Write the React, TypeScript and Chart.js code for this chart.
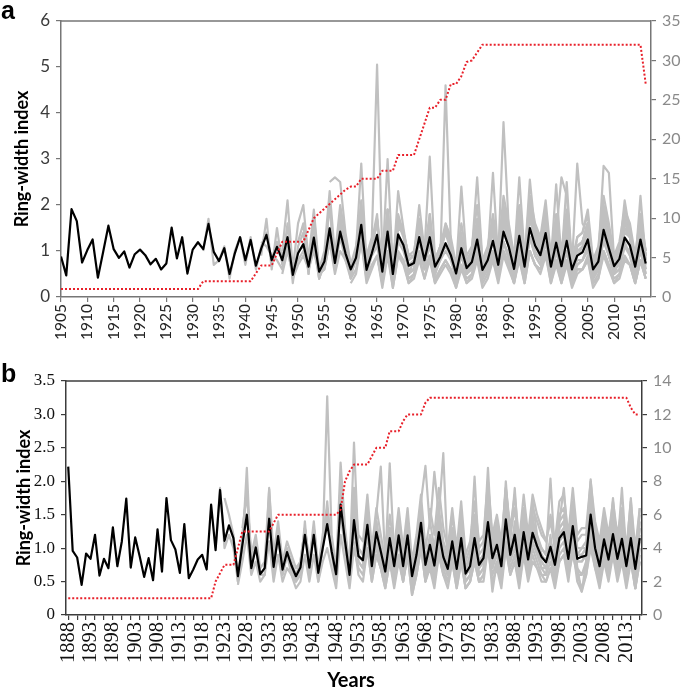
import React, { useEffect, useRef } from 'react';
import { Chart, registerables } from 'chart.js';
Chart.register(...registerables);

// ---------------- Panel a ----------------
const A_FIRST_YEAR = 1905;
const A_TICK_YEARS = [1905, 1910, 1915, 1920, 1925, 1930, 1935, 1940, 1945, 1950, 1955, 1960, 1965, 1970, 1975, 1980, 1985, 1990, 1995, 2000, 2005, 2010, 2015];
const A_MEAN = [
  0.88, 0.47, 1.91, 1.65, 0.75, 1.02, 1.25, 0.42, 0.98, 1.55,
  1.04, 0.85, 0.99, 0.64, 0.93, 1.03, 0.91, 0.71, 0.83, 0.60,
  0.73, 1.51, 0.84, 1.30, 0.51, 1.03, 1.19, 1.04, 1.59, 0.98,
  0.78, 1.06, 0.50, 0.95, 1.30, 0.80, 1.24, 0.68, 1.05, 1.35,
  0.80, 1.09, 0.80, 1.30, 0.48, 0.95, 1.15, 0.66, 1.29, 0.55,
  0.77, 1.49, 0.74, 1.42, 0.95, 0.60, 0.85, 1.57, 0.59, 0.95,
  1.35, 0.55, 1.42, 0.50, 1.36, 1.13, 0.68, 0.74, 1.30, 0.80,
  1.30, 0.66, 0.87, 1.17, 0.91, 0.51, 1.06, 0.63, 0.76, 1.25,
  0.59, 0.80, 1.22, 0.70, 1.42, 1.09, 0.61, 1.33, 0.66, 1.50,
  1.12, 0.91, 1.39, 0.66, 1.18, 0.67, 1.22, 0.60, 0.90, 0.97,
  1.25, 0.60, 0.77, 1.46, 1.06, 0.67, 0.83, 1.29, 1.12, 0.66,
  1.25, 0.73,
];
const A_DEPTH = [
  1, 1, 1, 1, 1, 1, 1, 1, 1, 1, 1, 1, 1, 1, 1, 1, 1, 1, 1, 1, 1, 1, 1, 1, 1, 1, 1,
  2, 2, 2, 2, 2, 2, 2, 2, 2, 2,
  3, 4, 4, 4, 5.5, 7, 7, 7, 7, 7,
  8.5, 10, 10.6, 11.2, 11.8, 12.4, 13, 13.6, 14, 14,
  15, 15, 15, 15, 16, 16, 16, 18, 18, 18, 18, 20, 22, 24, 24, 25, 25, 27, 27, 28, 29.8, 30, 31,
  32, 32, 32, 32, 32, 32, 32, 32, 32, 32, 32, 32, 32, 32, 32, 32, 32, 32, 32, 32, 32, 32, 32, 32, 32, 32, 32, 32, 32, 32, 32,
  27,
];
const A_G1 = [1.0,1.7,0.7,0.8,1.1,0.4,1.0,1.3,0.7,1.3, 0.6,1.1,1.4,0.8,1.2,0.9,1.3,0.5,1.0,1.1, 0.7,1.3,0.6,0.9,1.5,0.8,1.4,1.0,0.6,0.9, 1.5,0.6,1.0,1.2,0.6,1.4,0.5,1.3,1.1,0.7, 0.8,1.3,0.8,1.2,0.7,0.9,1.1,0.9,0.5,1.0, 0.6,0.8,1.2,0.6,0.8,1.2,0.7,1.4,1.1,0.6, 1.3,0.7,1.5,1.1,0.9,1.4,0.7,1.2,0.7,1.2, 0.6,0.9,1.0,1.2,0.6,0.8,1.4,1.0,0.7,0.8, 1.3,1.1,0.7,1.2,0.7];
const A_G2 = [0.9,1.7,0.6,1.5,0.7,1.6,0.3,1.1,1.4,0.5, 1.6,0.4,0.8,2.0,0.6,1.8,1.0,0.4,0.9,2.1, 0.4,1.1,1.7,0.4,1.9,0.3,1.8,1.4,0.5,0.6, 1.7,0.7,1.6,0.5,0.9,1.5,1.0,0.3,1.3,0.5, 0.7,1.6,0.4,0.8,1.6,0.6,1.9,1.3,0.4,1.7, 0.5,2.0,1.3,0.9,1.8,0.5,1.5,0.5,1.6,0.4, 0.9,1.1,1.6,0.4,0.7,1.9,1.2,0.5,0.8,1.7, 1.3,0.5,1.6,0.6];
const A_G3 = [1.2,1.1,0.9,0.8,0.6,1.1,0.4,0.7,0.9,0.6, 1.0,0.5,0.6,1.2,0.5,1.0,0.8,0.4,0.6,1.2, 0.4,0.7,0.9,0.3,1.0,0.3,1.0,0.8,0.4,0.5, 1.0,0.6,0.9,0.4,0.6,0.8,0.6,0.3,0.7,0.4, 0.5,0.9,0.3,0.5,0.9,0.4,1.0,0.7,0.3,0.9, 0.4,1.0,0.7,0.6,0.9,0.4,0.8,0.4,0.8,0.3, 0.6,0.6,0.8,0.3,0.5,1.0,0.7,0.4,0.5,0.8, 0.7,0.3,0.8,0.4];
const A_G4 = [1.0,2.1,0.6,1.6,2.0,0.8,1.9,0.6,1.0,2.3, 0.9,2.0,1.3,0.7,1.0,2.9,0.7,1.2,1.6,0.7, 3.0,0.6,2.3,1.5,0.8,0.9,2.0,1.0,1.8,0.8, 1.1,1.6,1.2,0.6,2.4,0.8,0.9,1.6,0.7,1.0, 1.5,0.8,1.8,1.4,0.7,1.7,0.8,1.9,1.4,1.2, 1.8,0.8,1.5,0.8,1.5,0.7,1.1,1.2,1.6,0.7, 1.0,1.9,1.3,0.8,1.0,2.1,1.4,0.8,1.6,0.9];
const A_G5 = [0.5,1.0,0.5,0.8,1.0,0.6,1.1,0.4,0.8,1.3, 0.6,1.3,0.8,0.5,0.8,1.3,0.5,0.9,1.1,0.5, 1.3,0.4,1.2,1.0,0.6,0.6,1.2,0.7,1.1,0.6, 0.8,1.0,0.8,0.4,0.9,0.5,0.7,1.0,0.5,0.7, 1.0,0.6,1.2,0.9,0.5,1.1,0.6,1.3,1.0,0.8, 1.2,0.6,1.0,0.6,1.0,0.5,0.8,0.8,1.0,0.5, 0.7,1.2,0.9,0.6,0.7,1.1,1.0,0.6,1.0,0.6];
const A_G6 = [1.1,0.5,0.6,1.2,0.8,1.6,0.9,0.7,1.1,1.8, 0.9,1.3,5.05,0.9,1.9,0.8,1.7,1.4,0.9,1.0, 1.6,1.0,1.5,0.8,1.1,1.4,1.1,0.7,1.3,0.8, 1.0,2.6,0.8,1.0,1.4,0.9,1.7,1.3,0.8,1.6, 0.8,2.55,1.4,1.1,1.7,0.8,1.4,0.8,1.4,0.7, 1.1,1.2,1.5,0.7,0.9,1.7,1.3,0.8,1.0,1.5, 1.3,0.8,1.5,0.9];
const A_G7 = [2.5,2.6,2.5,1.4,0.7,1.0,1.9,0.7,1.1,1.6, 0.6,1.7,0.6,1.6,1.3,0.8,0.9,1.5,0.9,1.5, 0.7,1.0,1.4,1.0,0.6,1.2,0.7,0.9,1.5,0.7, 0.9,2.7,0.8,1.6,1.2,0.7,1.5,0.7,1.7,1.3, 1.0,1.6,0.7,1.3,0.8,2.5,0.7,1.0,1.1,1.4, 0.7,0.9,1.6,1.2,0.8,0.9,1.4,1.3,0.7,2.2, 0.8];
const A_G8 = [0.3,0.5,1.2,0.3,0.6,0.9,0.2,0.9,0.2,0.9, 0.7,0.3,0.4,0.8,0.4,0.8,0.3,0.5,0.7,0.5, 0.2,0.6,0.3,0.4,0.8,0.2,0.4,0.8,0.3,0.9, 0.6,0.3,0.8,0.3,1.0,0.7,0.5,0.9,0.3,0.7, 0.3,0.7,0.2,0.5,0.6,0.8,0.2,0.4,0.9,0.6, 0.3,0.4,0.8,0.7,0.3,0.8,0.4];
const A_G9 = [0.8,1.2,1.7,0.7,1.6,0.6,1.5,1.4,0.9,0.9, 1.5,1.0,1.6,0.8,1.1,1.5,1.2,0.6,1.3,0.8, 1.0,1.5,0.7,1.0,1.5,0.9,3.8,1.5,0.8,2.6, 0.9,1.8,1.4,1.1,1.7,0.8,1.5,0.9,1.5,0.7, 1.1,1.2,1.6,0.8,1.0,1.8,1.3,0.9,1.1,1.6, 1.4,0.8,1.6,1.0];
const A_G10 = [1.7,1.4,0.8,0.9,1.7,1.0,3.05,0.8,1.0,1.5, 1.1,0.6,1.3,0.7,0.9,1.6,0.7,1.0,1.6,0.8, 1.8,1.4,0.7,1.7,0.8,1.9,1.4,1.1,1.8,0.8, 2.45,0.8,1.6,0.7,1.1,1.2,1.6,0.7,0.9,2.85, 2.7,0.8,1.0,1.7,1.4,0.8,1.6,0.9];
const A_G11 = [1.2,0.5,0.8,4.6,1.2,0.4,0.9,0.5,0.6,1.1, 0.4,0.6,1.0,0.5,1.2,0.9,0.4,1.1,0.5,1.3, 0.9,0.7,1.2,0.5,1.0,0.5,1.0,0.4,0.7,0.8, 1.1,0.4,0.6,1.3,0.9,0.5,0.6,1.1,0.9,0.5, 1.0,0.5];
const A_G12 = [1.5,0.8,1.0,1.4,1.1,0.6,1.2,0.7,0.9,1.5, 0.7,1.0,1.4,0.8,1.6,1.3,0.7,1.5,0.8,1.7, 1.3,1.1,1.6,0.8,1.4,0.8,1.4,0.7,2.9,1.6, 1.4,0.7,0.9,1.7,1.2,0.8,1.0,1.5,1.3,0.8, 1.4,0.9];
const A_G13 = [0.7,1.3,0.8,0.9,1.4,0.8,1.0,1.4,0.9,1.7, 1.3,0.8,1.6,0.9,1.8,1.4,1.1,1.7,0.9,1.4, 0.9,1.5,0.8,1.1,1.2,1.5,0.8,1.0,1.8,1.3, 0.9,1.0,1.6,1.4,0.9,1.5,1.0];
const A_G14 = [0.4,0.6,1.0,0.5,1.2,0.8,0.4,1.1,0.5,1.3, 0.9,0.7,1.2,0.4,1.0,0.5,1.0,0.4,0.7,0.8, 1.1,0.4,0.6,1.3,0.9,0.5,0.6,1.2,0.9,0.4, 1.1,0.5];
const A_G15 = [1.2,1.6,0.5,1.8,0.4,0.7,2.1,0.6,1.7,1.2, 0.5,1.0,2.0,0.5,1.2,1.8,0.4,1.9,0.4,1.6, 1.4,0.5,0.8,1.7,0.6,1.8,0.5,1.1,1.5,1.2, 0.3,1.4,0.5,0.9,1.7,0.4,1.0,1.6,0.6,2.0, 1.5,0.5,1.8,0.6,2.1,1.5,1.2,1.9,0.5,1.7, 0.6,1.7,0.5,1.3,1.4,1.8,0.5,1.0,2.0,1.5, 0.6,1.1,1.8,1.5,0.6,1.7,0.8];
const A_G16 = [0.9,0.3,1.0,0.2,0.9, 0.8,0.3,0.5,0.9,0.4, 0.9,0.3,0.6,0.8,0.6, 0.2,0.7,0.3,0.5,0.9, 0.3,0.5,0.8,0.4,1.0, 0.7,0.3,0.9,0.3,1.0, 0.7,0.6,1.0,0.3,0.8, 0.3,0.8,0.3,0.6,0.6, 0.9,0.3,0.4,1.0,0.7, 0.3,0.5,0.9,0.7,0.3, 0.8,0.4];
const A_G17 = [1.6,1.3,0.7,1.6,0.9,1.1,2.0,0.8,1.1,1.8, 1.0,2.2,1.6,0.9,2.0,0.9,2.2,1.6,1.3,2.1, 0.9,1.8,1.0,1.9,0.8,1.3,1.4,1.9,0.8,1.1, 2.2,1.6,0.9,1.2,1.9,1.6,0.9,1.8,1.0];
const A_G18 = [1.3,0.7,1.5,0.8,1.7,1.3,1.1,1.6,0.8,1.4, 2.6,2.2,0.7,1.1,1.2,1.5,0.7,0.9,1.7,1.3, 0.8,1.0,1.5,1.3,0.8,1.5,0.9];
const A_GREYS: [number, number[]][] = [
  [1932, A_G1], [1943, A_G2], [1943, A_G3], [1947, A_G4], [1947, A_G5], [1953, A_G6], [1956, A_G7],
  [1960, A_G8], [1963, A_G9], [1969, A_G10], [1975, A_G11], [1975, A_G12], [1980, A_G13], [1985, A_G14],
  [1950, A_G15], [1965, A_G16], [1978, A_G17], [1990, A_G18],
];

// ---------------- Panel b ----------------
const B_FIRST_YEAR = 1888;
const B_LABEL_YEARS = [1888, 1893, 1898, 1903, 1908, 1913, 1918, 1923, 1928, 1933, 1938, 1943, 1948, 1953, 1958, 1963, 1968, 1973, 1978, 1983, 1988, 1993, 1998, 2003, 2008, 2013];
const B_MEAN = [
  2.22, 0.96, 0.86, 0.45, 0.92, 0.84, 1.20, 0.59, 0.84, 0.70,
  1.31, 0.73, 1.10, 1.74, 0.71, 1.16, 0.88, 0.57, 0.85, 0.52,
  1.28, 0.65, 1.75, 1.12, 0.98, 0.63, 1.36, 0.55, 0.68, 0.83,
  0.90, 0.68, 1.65, 0.97, 1.87, 1.11, 1.34, 1.15, 0.58, 1.05,
  1.50, 0.70, 1.01, 0.61, 0.70, 1.44, 0.72, 1.18, 0.68, 0.94,
  0.74, 0.58, 0.71, 1.20, 0.71, 1.20, 0.63, 1.00, 1.36, 0.95,
  0.61, 1.65, 1.10, 0.60, 1.42, 0.88, 0.82, 1.35, 0.73, 1.24,
  0.95, 0.65, 1.15, 0.73, 1.19, 0.73, 1.19, 0.58, 0.90, 1.38,
  0.75, 1.05, 0.74, 1.24, 0.87, 0.69, 1.10, 0.69, 1.15, 0.62,
  0.73, 1.15, 0.75, 0.85, 1.39, 0.85, 1.05, 0.73, 1.43, 0.90,
  1.20, 0.73, 1.24, 0.83, 1.23, 1.03, 0.87, 0.79, 1.02, 0.75,
  1.15, 1.24, 0.84, 1.33, 0.84, 0.87, 0.89, 1.50, 1.00, 0.73,
  1.13, 0.83, 1.21, 0.84, 1.14, 0.73, 1.15, 0.69, 1.15,
];
const B_DEPTH = [
  1, 1, 1, 1, 1, 1, 1, 1, 1, 1, 1, 1, 1, 1, 1, 1, 1, 1, 1, 1, 1, 1, 1, 1, 1, 1, 1, 1, 1, 1, 1, 1, 1,
  2, 2.5, 3, 3, 3, 4, 5,
  5, 5, 5, 5, 5, 5, 5.5,
  6, 6, 6, 6, 6, 6, 6, 6, 6, 6, 6, 6, 6, 6,
  6.3, 8, 8.6, 9, 9, 9, 9, 9.5, 10, 10, 10, 11, 11, 11, 11.6, 12, 12, 12, 12, 12.7,
  13, 13, 13, 13, 13, 13, 13, 13, 13, 13, 13, 13, 13, 13, 13, 13, 13, 13, 13, 13, 13, 13, 13,
  13, 13, 13, 13, 13, 13, 13, 13, 13, 13, 13, 13, 13, 13, 13, 13, 13, 13, 13, 13, 13, 13,
  12.4, 12, 12,
];
const B_G1 = [1.0,1.9,1.0,1.2,1.0,0.5,1.2,1.9,0.8,1.0, 0.6,0.7,1.6,0.7,1.2,0.6,0.9,0.7,0.5,0.7, 1.3,0.7,1.3,0.6,1.0,1.5,1.0,0.6,1.8,1.2, 0.6,1.6,0.9,0.8,1.5,0.7,1.4,1.0,0.6,1.3, 0.7,1.3,0.7,1.3,0.5,0.9,1.6,0.7,1.1,0.7, 1.4,0.9,0.7,1.2,0.6,1.3,0.6,0.7,1.3,0.7, 0.8,1.6,0.8,1.1,0.7,1.6,0.9,1.3,0.7,1.4, 0.8,1.4,1.0,0.8,0.7,1.1,0.7,1.3,1.4,0.8, 1.5,0.8,0.8,0.9,1.7,1.0,0.7,1.2,0.8,1.4, 0.8,1.3,0.7,1.3,0.6,1.3];
const B_G2 = [1.75,1.5,1.2,0.5,1.0,2.2,0.7,1.1, 0.6,0.6,1.9,0.6,1.3,0.6,0.9,0.6,0.5,0.6, 1.4,0.6,1.3,0.5,1.0,1.7,0.9,0.5,2.0,1.1, 0.5,1.7,0.8,0.7,1.6,0.6,1.4,0.9,0.5,1.3, 0.6,1.4,0.6,1.3,0.4,0.8,1.6,0.6,1.1,0.6, 1.5,0.8,0.6,1.2,0.5,1.3,0.5,0.6,1.4,0.6, 0.7,1.7,0.7,1.1,0.6,1.7,0.8,1.4,0.6,1.5, 0.7,1.5,1.0,0.7,0.6,1.2,0.6,1.4,1.5,0.7, 1.6,0.7,0.6,0.8,1.9,1.0,0.6,1.3,0.7,1.5, 0.7,1.4,0.6,1.4,0.5,1.4];
const B_G3 = [0.45,0.8,1.2,0.6,0.8, 0.5,0.6,1.1,0.5,0.9,0.5,0.7,0.6,0.4,0.5, 0.9,0.5,0.9,0.5,0.8,1.0,0.7,0.4,1.2,0.8, 0.4,1.0,0.7,0.6,1.0,0.5,0.9,0.7,0.4,0.8, 0.5,0.9,0.5,0.9,0.3,0.6,1.0,0.5,0.8,0.5, 0.9,0.6,0.5,0.8,0.4,0.8,0.4,0.5,0.8,0.5, 0.6,1.0,0.6,0.8,0.5,1.0,0.6,0.8,0.5,0.9, 0.6,0.9,0.7,0.6,0.5,0.7,0.5,0.8,0.9,0.6, 0.9,0.6,0.4,0.6,1.0,0.7,0.5,0.8,0.6,0.9, 0.6,0.8,0.5,0.8,0.4,0.8];
const B_G4 = [1.3,1.8,0.9,1.2, 0.7,0.8,1.88,0.9,1.4,0.8,1.1,0.9,0.7,0.8, 1.3,0.8,1.4,0.7,1.2,1.6,1.1,0.7,2.28,1.3, 0.7,2.58,1.0,0.9,1.6,0.9,1.5,2.22,0.8,2.27, 0.9,1.5,0.9,1.4,0.7,1.1,1.7,2.23,1.3,2.14, 1.5,2.42,0.8,1.3,0.8,1.4,0.7,0.9,2.07,0.9, 1.0,2.2,1.0,1.3,0.9,2.0,1.1,1.9,0.9,1.5, 1.0,1.7,1.2,1.0,0.9,2.04,0.9,1.4,1.9,1.0, 1.6,1.0,1.0,1.1,2.03,1.2,0.9,1.4,1.0,1.75, 1.0,1.9,0.9,1.75,0.8,1.6];
const B_G5 = [1.2,0.7,1.0,0.8,0.6,0.8, 1.3,0.8,1.3,0.7,1.1,3.27,1.2,0.7,1.7,1.2, 0.7,1.5,1.0,0.9,1.4,0.8,1.3,1.0,0.7,1.2, 0.8,1.2,0.8,1.2,0.6,1.0,1.4,0.8,1.1,0.8, 1.3,0.9,0.7,1.1,0.7,1.2,0.7,0.8,1.2,0.8, 0.9,1.4,0.9,1.1,0.8,1.5,1.0,1.2,0.8,1.3, 0.9,1.3,1.1,0.9,0.8,1.1,0.8,1.2,1.3,0.9, 1.4,0.9,0.9,1.0,1.5,1.1,0.8,1.2,0.9,1.3, 0.9,1.2,0.8,1.2,0.7,1.2];
const B_G6 = [1.5,1.0, 0.5,1.3,0.8,0.7,1.2,0.6,1.1,0.8,0.5,1.0, 0.6,1.1,0.6,1.0,0.4,0.8,1.2,0.6,0.9,0.6, 1.1,0.8,0.6,1.0,0.6,1.0,0.5,0.6,1.0,0.6, 0.7,1.2,0.7,0.9,0.6,1.3,0.8,1.0,0.6,1.1, 0.7,1.1,0.9,0.7,0.7,0.9,0.6,1.0,1.1,0.7, 1.2,0.7,0.35,0.8,1.3,0.9,0.6,1.0,0.7,1.1, 0.7,1.0,0.6,1.0,0.4,1.0];
const B_G7 = [0.8,1.9,1.2,1.1,1.8,1.0,1.6,1.2,0.8,1.5, 1.0,1.6,1.0,1.6,0.8,1.2,1.8,1.0,1.4,1.0, 1.6,1.1,0.9,1.5,0.9,1.5,0.8,1.0,1.5,1.0, 1.1,1.8,1.1,1.4,1.0,1.9,1.2,1.6,1.0,1.6, 1.1,1.6,1.4,1.2,1.1,1.4,1.0,1.5,1.6,1.1, 1.7,1.1,1.2,1.2,1.9,1.3,1.0,1.5,1.1,1.6, 1.1,1.5,1.0,1.5,0.9,1.5];
const B_G8 = [1.0,0.7,0.5,0.9, 0.5,0.9,0.5,0.9,0.4,0.7,1.1,0.5,0.8,0.5, 1.0,0.7,0.5,0.9,0.5,0.9,0.4,0.5,0.9,0.5, 0.6,1.1,0.35,0.8,0.5,1.1,0.7,0.9,0.5,1.0, 0.6,1.0,0.8,0.6,0.6,0.8,0.5,0.9,1.0,0.6, 1.1,0.6,0.6,0.7,1.2,0.8,0.5,0.9,0.6,1.0, 0.6,0.9,0.5,0.9,0.4,0.9];
const B_G9 = [1.3, 0.8,1.3,0.8,1.4,0.6,1.0,1.5,0.8,1.2,0.8, 1.4,1.0,0.8,1.2,0.8,1.3,0.7,0.8,1.3,0.8, 0.9,1.5,0.9,1.2,0.8,1.6,1.0,1.3,0.8,1.4, 0.9,1.4,1.1,1.0,0.9,1.1,0.8,1.3,1.4,0.9, 1.5,0.9,1.0,1.0,1.7,1.1,0.8,1.3,0.9,1.4, 0.9,1.3,0.8,1.3,0.8,1.3];
const B_G10 = [1.2,0.5,0.9,1.3,0.7,1.0,0.7, 1.2,0.9,0.6,1.1,0.6,1.1,0.6,0.7,1.1,0.7, 0.8,1.3,0.8,1.0,0.7,1.3,0.9,1.1,0.7,1.2, 0.8,1.2,1.0,0.8,0.7,1.0,0.7,1.1,1.2,0.8, 1.3,0.8,0.8,0.9,1.4,1.0,0.7,1.1,0.8,1.2, 0.8,1.1,0.7,1.1,0.7,1.1];
const B_G11 = [1.2,0.9, 1.3,1.0,0.8,1.2,0.8,1.2,0.7,0.8,1.2,0.8, 0.9,1.4,0.9,1.1,0.8,1.5,1.0,1.2,0.8,1.3, 0.9,1.3,1.1,0.9,0.8,1.1,0.8,1.2,1.3,0.9, 1.4,0.9,0.9,1.0,1.5,1.1,0.8,1.2,0.9,1.3, 0.9,1.2,0.8,1.2];
const B_G12 = [1.1,0.6,0.5,1.0,0.5,0.9,0.7,0.4,0.8, 0.4,0.8,0.5,0.9,0.3,0.6,1.0,0.5,0.7,0.4, 0.9,0.6,0.4,0.8,0.4,0.8,0.4,0.5,0.8,0.5, 0.5,1.0,0.5,0.7,0.4,1.0,0.6,0.8,0.4,0.9, 0.5,0.8,0.7,0.5,0.5,0.7,0.4,0.8,0.9,0.5, 1.0,0.5,0.35,0.6,1.1,0.7,0.4,0.8,0.5,0.9, 0.5,0.8,0.4,0.8,0.4,0.8];
const B_G13 = [1.6,1.2, 1.9,1.3,1.0,1.6,1.0,1.7,0.9,1.1,1.7,1.1, 1.2,2.0,1.2,1.5,1.1,1.9,1.3,1.8,1.1,1.8, 1.2,1.8,1.5,1.3,1.1,1.5,1.1,1.7,1.8,1.2, 1.9,1.2,1.3,1.3,2.0,1.4,1.1,1.6,1.2,1.7, 1.2,1.6,1.0,1.7,1.0,1.6];
const B_GREYS: [number, number[]][] = [
  [1921, B_G1], [1923, B_G2], [1926, B_G3], [1927, B_G4], [1935, B_G5], [1949, B_G6],
  [1951, B_G7], [1957, B_G8], [1960, B_G9], [1964, B_G10], [1969, B_G11], [1952, B_G12], [1969, B_G13],
];

// ---------------- styles ----------------
const GREY = '#c0c0c0';
const RED = '#e8202a';

type Panel = {
  letter: string;
  first: number;
  mean: number[];
  depth: number[];
  greys: [number, number[]][];
  xMin: number; xMax: number;
  tickYears: number[];
  labelYears: number[];
  tickEvery: number;
  yMax: number; yStep: number;
  y2Max: number; y2Step: number;
  top: number; leftW: number; rightW: number; xH: number;
  axisColor: string;
  yFont: any; yColor: string; yFmt: (v: number) => string;
  xFont: any; xColor: string;
  rFont: any; rColor: string;
  letterPos: [number, number];
  titlePos: [number, number];
  years?: [number, number];
};

function pts(start: number, vals: number[]) {
  return vals.map((v, i) => ({ x: start + i, y: v }));
}

const SANS = 'Lato, "Open Sans", sans-serif';
const SERIF = '"Liberation Serif", "DejaVu Serif", serif';

const PANEL_A: Panel = {
  letter: 'a', first: A_FIRST_YEAR, mean: A_MEAN, depth: A_DEPTH, greys: A_GREYS,
  xMin: 1905, xMax: 2017, tickYears: A_TICK_YEARS, labelYears: A_TICK_YEARS, tickEvery: 1,
  yMax: 6, yStep: 1, y2Max: 35, y2Step: 5,
  top: 21, leftW: 61, rightW: 34, xH: 48,
  axisColor: '#767676',
  yFont: { family: SANS, size: 17 }, yColor: '#3a3a3a', yFmt: (v) => String(v),
  xFont: { family: SANS, size: 15.5 }, xColor: '#262626',
  rFont: { family: SANS, size: 16 }, rColor: '#8a8a8a',
  letterPos: [1, 19], titlePos: [22, 159],
};

const B_ALL_YEARS = B_MEAN.map((_, i) => B_FIRST_YEAR + i);

const PANEL_B: Panel = {
  letter: 'b', first: B_FIRST_YEAR, mean: B_MEAN, depth: B_DEPTH, greys: B_GREYS,
  xMin: 1887.5, xMax: 2016.5, tickYears: B_ALL_YEARS, labelYears: B_LABEL_YEARS, tickEvery: 2,
  yMax: 3.5, yStep: 0.5, y2Max: 14, y2Step: 2,
  top: 36, leftW: 66, rightW: 43, xH: 75,
  axisColor: '#3c3c3c',
  yFont: { family: SERIF, size: 17 }, yColor: '#111', yFmt: (v) => (v === 0 ? '0' : v.toFixed(1)),
  xFont: { family: SERIF, size: 20.5 }, xColor: '#111',
  rFont: { family: SANS, size: 16 }, rColor: '#8a8a8a',
  letterPos: [1, 37], titlePos: [24, 153], years: [351, 342],
};

function makeChart(canvas: HTMLCanvasElement, p: Panel) {
  const textPlugin = {
    id: 'frameText' + p.letter,
    afterDraw(chart: any) {
      const ctx = chart.ctx as CanvasRenderingContext2D;
      const a = chart.chartArea;
      ctx.save();
      ctx.strokeStyle = p.axisColor;
      ctx.lineWidth = 1.5;
      ctx.beginPath();
      ctx.moveTo(a.left, a.top);
      ctx.lineTo(a.right, a.top);
      ctx.stroke();
      ctx.fillStyle = '#000';
      ctx.font = 'bold 25px "Liberation Sans", Arial, sans-serif';
      ctx.textAlign = 'left';
      ctx.textBaseline = 'alphabetic';
      ctx.fillText(p.letter, p.letterPos[0], p.letterPos[1]);
      ctx.font = 'bold 18px ' + SANS;
      ctx.translate(p.titlePos[0], p.titlePos[1]);
      ctx.rotate(-Math.PI / 2);
      ctx.textAlign = 'center';
      ctx.textBaseline = 'middle';
      ctx.fillText('Ring-width index', 0, 0);
      ctx.restore();
      if (p.years) {
        ctx.save();
        ctx.fillStyle = '#000';
        ctx.font = 'bold 20px ' + SANS;
        ctx.textAlign = 'center';
        ctx.textBaseline = 'alphabetic';
        ctx.fillText('Years', p.years[0], p.years[1]);
        ctx.restore();
      }
    },
  };

  const lineBase = { pointRadius: 0, tension: 0, borderJoinStyle: 'round' as const, fill: false };

  return new Chart(canvas, {
    type: 'line',
    data: {
      datasets: [
        { ...lineBase, label: 'Sample depth', data: pts(p.first, p.depth), yAxisID: 'y2', borderColor: RED, borderWidth: 2, borderDash: [2, 2], order: 0 },
        { ...lineBase, label: 'Mean', data: pts(p.first, p.mean), yAxisID: 'y', borderColor: '#000', borderWidth: 2.2, order: 1 },
        ...p.greys.map((g, i) => ({ ...lineBase, label: 'Tree ' + (i + 1), data: pts(g[0], g[1]), yAxisID: 'y', borderColor: GREY, borderWidth: 2.2, order: 2 })),
      ],
    } as any,
    options: {
      responsive: false,
      animation: false,
      devicePixelRatio: 1,
      layout: { padding: { top: p.top, left: 0, right: 0, bottom: 0 } },
      plugins: { legend: { display: false }, tooltip: { enabled: false } },
      scales: {
        x: {
          type: 'linear',
          min: p.xMin,
          max: p.xMax,
          afterBuildTicks: (s: any) => { s.ticks = p.tickYears.map((v) => ({ value: v })); },
          afterFit: (s: any) => { s.height = p.xH; },
          grid: {
            drawOnChartArea: false, drawTicks: true, tickLength: 5, lineWidth: 1.2,
            color: (c: any) => (c.tick && (c.tick.value - p.tickYears[0]) % p.tickEvery === 0 ? p.axisColor : 'rgba(0,0,0,0)'),
          },
          border: { display: true, color: p.axisColor, width: 1.5 },
          ticks: {
            autoSkip: false, minRotation: 90, maxRotation: 90, padding: 2,
            font: p.xFont, color: p.xColor,
            callback: (v: any) => (p.labelYears.includes(Number(v)) ? String(v) : ''),
          },
        },
        y: {
          position: 'left', min: 0, max: p.yMax,
          afterFit: (s: any) => { s.width = p.leftW; },
          grid: { drawOnChartArea: false, drawTicks: true, tickLength: 5, color: p.axisColor, lineWidth: 1.2 },
          border: { display: true, color: p.axisColor, width: 1.5 },
          ticks: { stepSize: p.yStep, padding: 6, font: p.yFont, color: p.yColor, callback: (v: any) => p.yFmt(Number(v)) },
        },
        y2: {
          position: 'right', min: 0, max: p.y2Max,
          afterFit: (s: any) => { s.width = p.rightW; },
          grid: { drawOnChartArea: false, drawTicks: true, tickLength: 5, color: p.axisColor, lineWidth: 1.2 },
          border: { display: true, color: p.axisColor, width: 1.5 },
          ticks: { stepSize: p.y2Step, padding: 6, font: p.rFont, color: p.rColor },
        },
      },
    } as any,
    plugins: [textPlugin],
  });
}

export default function App() {
  const refA = useRef<HTMLCanvasElement>(null);
  const refB = useRef<HTMLCanvasElement>(null);
  useEffect(() => {
    let ca: Chart | null = null;
    let cb: Chart | null = null;
    let alive = true;
    const fonts = (document as any).fonts;
    const ready = fonts
      ? Promise.all([
          fonts.load('17px Lato'), fonts.load('bold 17px Lato'),
          fonts.load('17px "Liberation Serif"'), fonts.load('bold 25px "Liberation Sans"'),
        ]).catch(() => null)
      : Promise.resolve(null);
    ready.then(() => {
      if (!alive) return;
      if (refA.current) ca = makeChart(refA.current, PANEL_A);
      if (refB.current) cb = makeChart(refB.current, PANEL_B);
    });
    return () => {
      alive = false;
      if (ca) ca.destroy();
      if (cb) cb.destroy();
    };
  }, []);
  return (
    <div style={{ position: 'fixed', left: 0, top: 0, width: 685, height: 690, background: '#fff' }}>
      <canvas ref={refA} width={685} height={345} style={{ position: 'absolute', left: 0, top: 0, width: 685, height: 345 }} />
      <canvas ref={refB} width={685} height={345} style={{ position: 'absolute', left: 0, top: 345, width: 685, height: 345 }} />
    </div>
  );
}
